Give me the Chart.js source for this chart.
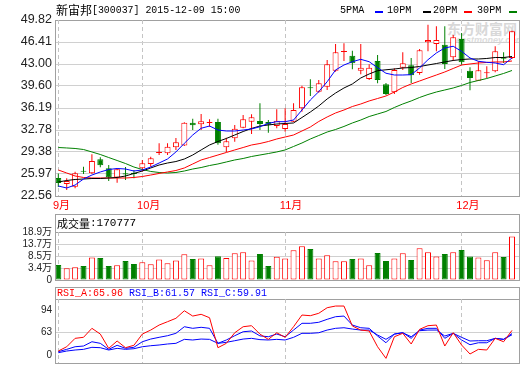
<!DOCTYPE html>
<html><head><meta charset="utf-8">
<script src="https://cdn.jsdelivr.net/npm/chart.js"></script>
<style>
html,body{margin:0;padding:0;background:#fff;}
#wrap{position:relative;width:520px;height:365px;overflow:hidden;background:#fff;}
.abs{position:absolute;white-space:nowrap;}
.frame{position:absolute;border:1px solid #a0a0a0;}
.hl{position:absolute;height:1px;background:#a0a0a0;}
.mono{font-family:'Liberation Mono','DejaVu Sans Mono',monospace;white-space:nowrap;transform-origin:0 50%;display:inline-block;vertical-align:top;}
.cjk{font-family:'Noto Sans CJK SC',sans-serif;display:inline-block;vertical-align:top;}
canvas{position:absolute;left:0;top:0;}
.dash{position:absolute;height:2px;width:8px;top:11px;}
</style></head>
<body><div id="wrap">
<div class="abs" style="left:447px;top:20px;font:bold 14px 'Noto Sans CJK SC',sans-serif;color:#d8d8d8;line-height:16px;">东方财富网</div>
<div class="abs" style="left:456px;top:35px;font:italic bold 9px 'Liberation Sans',sans-serif;color:#dcdcdc;line-height:10px;">eastmoney.com</div>
<div class="frame" style="left:55px;top:20px;width:463px;height:175px;"></div>
<div class="frame" style="left:55px;top:214px;width:463px;height:65px;"></div>
<div class="hl" style="left:55px;top:232px;width:465px;"></div>
<div class="frame" style="left:55px;top:287px;width:463px;height:75px;"></div>
<div class="hl" style="left:55px;top:299px;width:465px;"></div>
<canvas id="cMain" width="520" height="365"></canvas>
<canvas id="cVol" width="520" height="365"></canvas>
<canvas id="cRsi" width="520" height="390"></canvas>
<div class="abs" style="left:56px;top:4px;height:12px;line-height:12px;color:#000;"><span class="cjk" style="font-size:12px;line-height:12px;">新宙邦</span><span class="mono" style="font-size:11.5px;line-height:12px;transform:scaleX(0.86);">[300037] 2015-12-09 15:00</span></div>
<span class="mono abs" style="left:340px;top:4px;line-height:12px;font-size:11.5px;transform:scaleX(0.88);color:#000;">5PMA</span>
<div class="dash" style="left:375px;background:#0000ff;"></div>
<span class="mono abs" style="left:387px;top:4px;line-height:12px;font-size:11.5px;transform:scaleX(0.88);color:#000;">10PM</span>
<div class="dash" style="left:423px;background:#000;"></div>
<span class="mono abs" style="left:433px;top:4px;line-height:12px;font-size:11.5px;transform:scaleX(0.88);color:#000;">20PM</span>
<div class="dash" style="left:464px;background:#ff0000;"></div>
<span class="mono abs" style="left:477px;top:4px;line-height:12px;font-size:11.5px;transform:scaleX(0.88);color:#000;">30PM</span>
<div class="dash" style="left:509px;background:#008000;"></div>
<div class="abs" style="left:57px;top:217px;height:12px;line-height:12px;color:#000;"><span class="cjk" style="font-size:11px;line-height:12px;">成交量</span><span class="mono" style="font-size:11px;line-height:12px;" id="volTitle"></span></div>
<div class="abs" id="rsiTitle" style="left:57px;top:288px;height:11px;line-height:11px;"></div>
</div>
<script>
const dates = ['09-17','09-18','09-21','09-22','09-23','09-24','09-25','09-28','09-29','09-30',
'10-08','10-09','10-12','10-13','10-14','10-15','10-16','10-19','10-20','10-21','10-22','10-23','10-26','10-27','10-28','10-29','10-30',
'11-02','11-03','11-04','11-05','11-06','11-09','11-10','11-11','11-12','11-13','11-16','11-17','11-18','11-19','11-20','11-23','11-24','11-25','11-26','11-27','11-30',
'12-01','12-02','12-03','12-04','12-07','12-08','12-09'];

const opens = [25.35,24.42,24.00,26.48,26.08,28.24,26.85,25.43,26.10,26.15,
26.85,27.52,29.22,29.17,30.10,30.38,33.91,33.67,33.85,34.02,
30.10,31.50,33.14,34.07,34.18,34.02,33.40,32.94,34.07,36.15,
39.40,38.72,39.49,41.97,44.85,44.29,41.97,40.68,43.47,39.86,
38.62,42.43,42.81,41.61,46.37,46.10,46.00,44.04,46.88,41.97,
40.42,41.57,41.88,44.04,43.94];
const highs = [26.05,25.30,26.32,27.10,29.02,28.55,27.36,26.80,27.05,26.60,
28.14,28.65,30.72,30.72,31.54,33.98,34.53,35.26,34.44,34.53,
31.59,33.56,35.11,35.22,36.92,34.33,35.99,36.15,36.92,39.65,
40.64,40.53,43.63,46.11,46.21,45.07,46.11,42.96,44.40,40.06,
42.34,44.82,43.94,45.33,49.09,48.85,48.85,47.50,47.81,42.50,
43.42,42.65,45.75,44.82,48.16];
const lows = [23.95,23.49,23.75,25.97,25.97,27.01,24.88,24.62,25.04,25.30,
26.32,27.10,28.91,28.91,29.69,30.30,32.78,32.78,33.29,30.51,
29.38,30.97,33.05,32.16,32.78,32.37,33.05,32.52,34.02,35.62,
38.05,38.56,38.98,41.81,43.47,42.19,41.41,40.53,40.02,38.20,
38.36,42.08,40.06,41.35,44.97,44.97,42.23,43.47,42.90,38.93,
40.37,40.84,41.72,43.16,43.78];
const closes = [24.57,24.88,26.08,26.32,27.98,27.32,25.46,26.70,25.90,25.97,
27.62,28.40,29.38,30.20,30.88,33.91,33.51,34.13,34.01,30.72,
31.03,32.99,34.44,34.75,33.71,33.60,34.22,33.71,35.88,39.40,
39.24,40.02,42.96,44.82,45.01,43.12,42.43,42.43,40.53,38.36,
42.08,43.12,41.26,45.13,46.72,46.72,43.01,47.14,43.27,40.84,
42.03,41.73,44.97,43.83,48.07];

const ma5 = [24.11,23.80,24.26,25.19,25.81,26.28,26.66,26.82,26.74,26.43,
26.59,27.05,27.67,28.29,29.38,30.72,32.01,33.05,33.40,32.78,
32.63,32.63,32.78,32.94,33.29,33.82,34.07,34.07,34.33,35.88,
37.43,38.72,40.26,42.08,42.85,43.36,43.73,43.36,42.43,41.57,
41.30,41.30,41.35,42.39,43.67,44.71,45.49,45.75,44.97,43.94,
43.42,43.27,43.16,42.90,43.94];
const ma10 = [24.73,24.96,25.12,25.19,25.27,25.27,25.35,25.43,25.66,26.05,
26.43,26.90,27.36,27.67,27.90,28.29,28.91,29.69,30.46,31.00,
31.47,32.01,32.55,33.02,33.40,33.56,33.71,33.79,33.87,34.72,
35.57,36.50,37.59,38.51,39.29,39.91,40.84,41.46,41.97,42.11,
42.23,42.39,42.46,42.62,42.85,43.08,43.32,43.55,43.70,43.78,
43.78,43.86,44.01,44.01,44.17];
const ma20 = [26.59,26.12,25.66,25.43,25.35,25.35,25.35,25.35,25.35,25.43,
25.58,25.81,26.05,26.28,26.51,26.90,27.52,28.14,28.52,28.91,
29.30,29.69,30.07,30.46,30.69,31.00,31.39,31.70,32.01,32.63,
33.25,34.10,34.80,35.42,35.88,36.42,36.81,37.28,37.66,38.05,
38.67,39.37,39.91,40.37,40.84,41.30,41.77,42.31,42.85,43.01,
43.16,43.24,43.32,43.32,43.47];
const ma30 = [30.07,30.00,29.92,29.76,29.38,28.99,28.52,28.06,27.59,27.05,
26.66,26.36,26.20,26.12,26.20,26.43,26.74,26.97,27.28,27.52,
27.83,28.14,28.37,28.68,28.91,29.14,29.38,29.69,30.23,30.77,
31.39,31.93,32.47,32.86,33.33,33.87,34.33,34.87,35.26,35.65,
36.27,36.81,37.28,37.82,38.28,38.67,38.98,39.29,39.68,40.14,
40.45,40.76,41.15,41.54,42.00];

// volume in 万 (10k hands)
const volume = [5.9,4.6,5.0,5.5,8.9,8.7,5.5,5.8,7.5,6.3,
7.0,6.2,8.1,6.6,7.7,10.1,8.3,8.5,5.8,9.4,
8.7,10.5,10.9,7.7,10.2,5.5,9.2,8.5,11.7,13.3,
12.2,8.5,9.7,7.4,7.4,8.3,8.5,5.8,10.6,7.5,
8.5,10.5,7.9,12.5,10.9,9.3,10.2,10.9,11.8,9.3,
8.9,7.8,10.9,9.1,17.08];
const volTitleValue = '170777';

const rsiA = [37.5,43.4,55.0,56.4,68.8,60.9,41.2,51.3,42.1,45.4,
60.9,66.4,73.3,77.9,82.6,93.0,85.7,88.1,83.4,42.1,
48.1,62.7,71.0,72.4,60.8,53.6,62.7,56.4,71.0,87.1,
86.2,89.5,97.2,99.5,99.5,72.0,66.4,65.1,43.4,27.4,
57.2,61.9,47.2,67.4,72.4,73.3,44.4,62.7,45.8,33.4,
39.8,38.9,55.0,50.3,65.96];
const rsiB = [36.6,39.8,43.4,44.4,50.3,48.1,39.8,45.4,41.2,42.6,
50.3,54.0,56.4,58.6,61.9,71.0,68.8,70.2,68.8,48.1,
52.7,58.6,64.1,65.1,58.4,57.2,60.9,57.2,66.4,75.7,
75.7,77.1,81.2,84.8,85.7,73.3,69.6,68.8,58.2,48.9,
60.9,62.7,55.0,66.4,68.8,68.8,55.0,61.9,52.7,46.2,
48.9,48.9,55.0,53.6,61.57];
const rsiC = [35.2,37.5,38.9,39.8,42.6,42.1,38.9,41.2,39.8,40.7,
43.4,44.8,45.8,47.2,48.1,53.6,52.7,54.0,53.6,48.1,
49.5,51.7,54.0,55.0,53.2,52.7,53.6,52.7,56.4,61.9,
61.9,62.7,66.4,68.8,69.6,67.8,66.4,66.4,59.6,53.6,
60.9,62.7,57.2,65.5,66.4,66.4,58.2,61.9,56.4,51.3,
51.7,51.7,55.0,53.6,59.91];

const priceTicks = [22.56,25.97,29.38,32.78,36.19,39.60,43.00,46.41,49.82];
const priceTickLabels = ['22.56','25.97','29.38','32.78','36.19','39.60','43.00','46.41','49.82'];
const volAxisMax = 18.9;
const volTickLabels = ['0','3.4万','8.5万','13.7万','18.9万'];
const rsiTickVals = [32,63,94];
const rsiTickLabels = ['0','63','94'];

const RED = '#ff0000', GREEN = '#008000', BLUE = '#0000ff', BLACK = '#000000';
const N = dates.length;
const idx = dates.map((d, i) => i);
const up = closes.map((c, i) => c >= opens[i]);
const monthIdx = idx.filter(i => i === 0 || dates[i].slice(0, 2) !== dates[i - 1].slice(0, 2));
const X_MIN = -0.274, X_MAX = 54.833;
const TICK_FONT = "'Liberation Sans', Arial, 'Noto Sans CJK SC', sans-serif";
const GRID = '#d0d0d0', NONE = 'rgba(0,0,0,0)';

document.getElementById('volTitle').textContent = ':' + volTitleValue;
document.getElementById('rsiTitle').innerHTML =
  '<span class="mono" style="font-size:10px;line-height:11px;color:' + RED + '">RSI_A:' + rsiA[N-1].toFixed(2) + '</span>' +
  '<span class="mono" style="font-size:10px;line-height:11px;color:' + BLUE + '">&nbsp;RSI_B:' + rsiB[N-1].toFixed(2) + '</span>' +
  '<span class="mono" style="font-size:10px;line-height:11px;color:' + BLUE + '">&nbsp;RSI_C:' + rsiC[N-1].toFixed(2) + '</span>';

function xAxis() {
  return {
    type: 'linear', min: X_MIN, max: X_MAX, offset: false,
    afterBuildTicks: s => { s.ticks = monthIdx.map(v => ({ value: v })); },
    afterFit: s => { s.height = 0; },
    ticks: { display: false },
    grid: { color: '#c4c4c4', lineWidth: 1, drawTicks: false, offset: false },
    border: { display: false, dash: [4, 3] }
  };
}
function yAxis(min, max, vals, labels, gridFn, fontSize) {
  return {
    type: 'linear', min: min, max: max, beginAtZero: false,
    afterBuildTicks: s => { s.ticks = vals.map(v => ({ value: v })); },
    afterFit: s => { s.width = 56; },
    ticks: { callback: (v, i) => labels[i], color: '#222', autoSkip: false, padding: 4,
             font: { family: TICK_FONT, size: fontSize } },
    grid: { color: gridFn, drawTicks: false },
    border: { display: false }
  };
}
const baseOpts = (padTop, padBottom) => ({
  responsive: false, animation: false, devicePixelRatio: 1,
  layout: { padding: { top: padTop, bottom: padBottom, left: 0, right: 1 } },
  plugins: { legend: { display: false }, tooltip: { enabled: false } },
  events: []
});

const monthLabelPlugin = {
  id: 'monthLabels',
  afterDraw(chart) {
    const xs = chart.scales.x, ctx = chart.ctx;
    ctx.save();
    ctx.font = "11px 'Liberation Sans', Arial, 'Noto Sans CJK SC', sans-serif";
    ctx.fillStyle = RED; ctx.textAlign = 'left'; ctx.textBaseline = 'middle';
    monthIdx.forEach(i => {
      ctx.fillText(parseInt(dates[i].slice(0, 2), 10) + '月', xs.getPixelForValue(i) - 5.3, 205.5);
    });
    ctx.restore();
  }
};

const maLine = (arr, color) => ({
  type: 'line', data: idx.map(i => ({ x: i, y: arr[i] })), borderColor: color, borderWidth: 1,
  pointRadius: 0, fill: false, tension: 0, order: 0
});

// Main candlestick chart
const mainOpts = baseOpts(20, 169);
mainOpts.scales = {
  x: xAxis(),
  y: yAxis(priceTicks[0], priceTicks[priceTicks.length - 1], priceTicks, priceTickLabels,
           c => (c.index === 0 || c.index === priceTicks.length - 1) ? NONE : GRID, 12.5)
};
new Chart(document.getElementById('cMain'), {
  type: 'bar',
  data: { datasets: [
    maLine(ma5, BLUE), maLine(ma10, BLACK), maLine(ma20, RED), maLine(ma30, GREEN),
    { type: 'bar', data: idx.map(i => ({ x: i, y: [opens[i], closes[i]] })),
      backgroundColor: up.map(u => u ? '#ffffff' : GREEN), borderColor: up.map(u => u ? RED : GREEN),
      borderWidth: 1, borderSkipped: false, barThickness: 6, grouped: false, inflateAmount: 0, order: 2 },
    { type: 'bar', data: idx.map(i => ({ x: i, y: [lows[i], highs[i]] })),
      backgroundColor: up.map(u => u ? RED : GREEN), borderWidth: 0, barThickness: 1,
      grouped: false, inflateAmount: 0, order: 3 }
  ] },
  options: mainOpts,
  plugins: [monthLabelPlugin]
});

// Volume chart
const volTickVals = volTickLabels.map((_, k) => volAxisMax * k / (volTickLabels.length - 1));
const volOpts = baseOpts(232, 85);
volOpts.scales = {
  x: xAxis(),
  y: yAxis(0, volAxisMax, volTickVals, volTickLabels,
           c => (c.index === 0 || c.index === volTickVals.length - 1) ? NONE : GRID, 10)
};
new Chart(document.getElementById('cVol'), {
  type: 'bar',
  data: { datasets: [
    { data: idx.map(i => ({ x: i, y: volume[i] })),
      backgroundColor: up.map(u => u ? '#ffffff' : GREEN), borderColor: up.map(u => u ? RED : GREEN),
      borderWidth: 1, borderSkipped: false, barThickness: 6, inflateAmount: 0 }
  ] },
  options: volOpts
});

// RSI chart (canvas 390 tall so label overflow never shrinks the plot; plot bottom at 363)
const rsiOpts = baseOpts(299, 27);
rsiOpts.scales = {
  x: xAxis(),
  y: yAxis(21, 109.2, rsiTickVals, rsiTickLabels, c => (c.index === 1) ? GRID : NONE, 10)
};
const rsiLine = (arr, color) => ({
  data: idx.map(i => ({ x: i, y: arr[i] })), borderColor: color, borderWidth: 1,
  pointRadius: 0, fill: false, tension: 0
});
new Chart(document.getElementById('cRsi'), {
  type: 'line',
  data: { datasets: [rsiLine(rsiA, RED), rsiLine(rsiB, BLUE), rsiLine(rsiC, BLUE)] },
  options: rsiOpts
});
</script>
</body></html>
